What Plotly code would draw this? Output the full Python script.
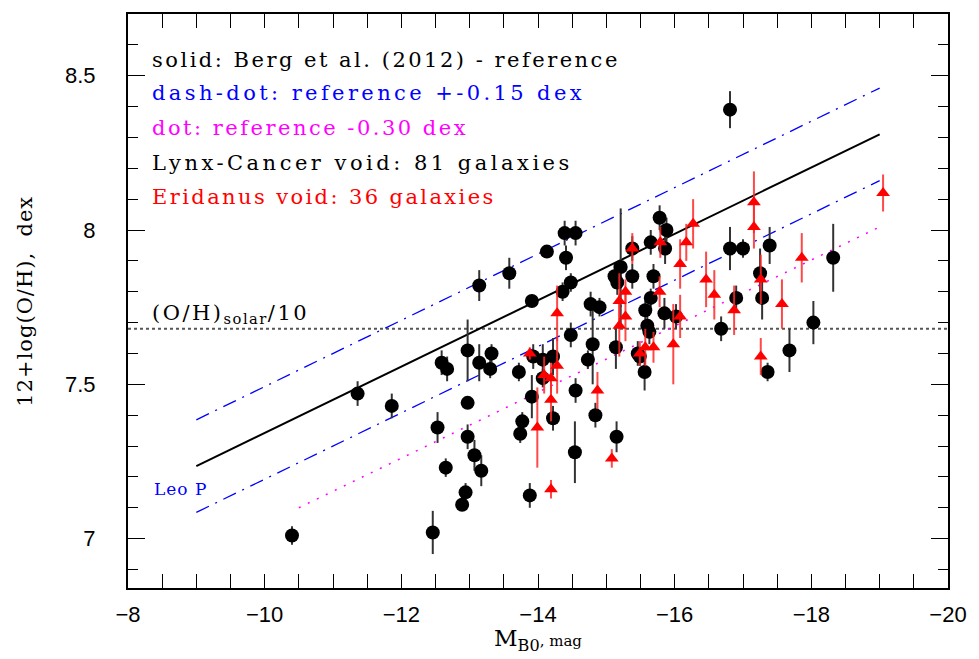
import plotly.graph_objects as go

# Lynx-Cancer void galaxies (black circles)
lc_mb = [-10.40, -11.36, -11.86, -12.53, -12.46, -12.59, -12.67, -12.65, -12.97, -12.97,
         -12.97, -13.07, -13.17, -12.94, -12.89, -13.14, -13.32, -13.30, -13.14, -13.58,
         -13.72, -13.91, -13.91, -13.77, -13.74, -13.88, -13.93, -14.07, -14.22, -14.07,
         -14.22, -14.13, -14.39, -14.55, -14.41, -14.48, -14.36, -14.77, -14.90, -14.48,
         -14.80, -14.73, -14.55, -14.84, -14.54, -15.15, -15.14, -15.12, -15.21, -15.16,
         -15.38, -15.38, -15.65, -15.78, -15.88, -15.86, -15.69, -15.65, -15.57, -15.85,
         -16.02, -15.60, -15.63, -15.46, -15.49, -15.56, -16.68, -16.81, -17.00, -17.39,
         -17.25, -17.28, -16.90, -17.36, -17.68, -18.03, -18.32, -16.81]
lc_oh = [7.01, 7.47, 7.43, 7.36, 7.02, 7.57, 7.55, 7.23, 7.61, 7.44,
         7.33, 7.27, 7.22, 7.15, 7.11, 7.57, 7.60, 7.55, 7.82, 7.86,
         7.54, 7.77, 7.46, 7.38, 7.34, 7.14, 7.59, 7.58, 7.59, 7.52,
         7.39, 7.93, 7.99, 7.99, 7.91, 7.83, 7.80, 7.76, 7.75, 7.66,
         7.63, 7.58, 7.48, 7.40, 7.28, 7.33, 7.62, 7.85, 7.88, 7.83,
         7.85, 7.94, 7.96, 8.04, 8.00, 7.94, 7.85, 7.78, 7.74, 7.73,
         7.72, 7.69, 7.67, 7.60, 7.59, 7.54, 7.68, 7.94, 7.94, 7.95,
         7.86, 7.78, 7.78, 7.54, 7.61, 7.70, 7.91, 8.39]
lc_err = [0.03, 0.04, 0.04, 0.05, 0.07, 0.04, 0.04, 0.03, 0.10, 0.02,
          0.04, 0.05, 0.05, 0.03, 0.02, 0.06, 0.03, 0.03, 0.05, 0.05,
          0.03, 0.02, 0.07, 0.03, 0.03, 0.04, 0.04, 0.05, 0.06, 0.03,
          0.04, 0.02, 0.04, 0.04, 0.04, 0.03, 0.03, 0.04, 0.03, 0.04,
          0.13, 0.03, 0.04, 0.04, 0.10, 0.05, 0.07, 0.04, 0.19, 0.04,
          0.04, 0.04, 0.04, 0.04, 0.04, 0.05, 0.04, 0.03, 0.03, 0.05,
          0.04, 0.04, 0.04, 0.04, 0.03, 0.06, 0.04, 0.07, 0.03, 0.06,
          0.08, 0.07, 0.04, 0.03, 0.07, 0.07, 0.11, 0.06]

# Eridanus void galaxies (red triangles)
er_mb = [-14.28, -13.88, -14.09, -14.19, -14.28, -14.19, -13.99, -14.19, -14.87, -15.08,
         -15.38, -15.19, -15.28, -15.28, -15.19, -15.79, -15.78, -15.57, -15.69, -15.49,
         -15.98, -16.08, -16.08, -16.17, -16.27, -16.46, -16.58, -17.16, -17.16, -17.26,
         -16.87, -17.57, -17.86, -17.26, -19.05]
er_oh = [7.73, 7.60, 7.53, 7.52, 7.56, 7.45, 7.36, 7.16, 7.48, 7.26,
         7.94, 7.77, 7.80, 7.72, 7.69, 7.96, 7.80, 7.62, 7.62, 7.60,
         7.63, 7.72, 7.89, 7.96, 8.02, 7.84, 7.79, 8.09, 8.01, 7.84,
         7.74, 7.76, 7.91, 7.59, 8.12]
er_err = [0.09, 0.02, 0.06, 0.05, 0.09, 0.07, 0.13, 0.03, 0.06, 0.03,
          0.05, 0.09, 0.04, 0.08, 0.10, 0.05, 0.05, 0.06, 0.05, 0.04,
          0.13, 0.07, 0.08, 0.06, 0.08, 0.09, 0.08, 0.10, 0.07, 0.08,
          0.08, 0.08, 0.08, 0.06, 0.06]

# Reference relations
ref_x = [-9.0, -19.0]
ref_y = [7.235, 8.31]
ref_hi_y = [7.385, 8.46]
ref_lo_y = [7.085, 8.16]
ref_dot_x = [-10.5, -19.0]
ref_dot_y = [7.10, 8.01]
solar10_x = [-8.0, -20.0]
solar10_y = [7.68, 7.68]

x_ticks = [-8, -10, -12, -14, -16, -18, -20]
y_ticks = [7, 7.5, 8, 8.5]
y_tick_text = ["7", "7.5", "8", "8.5"]

fig = go.Figure()

fig.add_trace(go.Scatter(x=solar10_x, y=solar10_y, mode="lines",
                         line=dict(color="#555555", width=2, dash="dot"), hoverinfo="skip"))
fig.add_trace(go.Scatter(x=ref_x, y=ref_y, mode="lines",
                         line=dict(color="black", width=2)))
fig.add_trace(go.Scatter(x=ref_x, y=ref_hi_y, mode="lines",
                         line=dict(color="#0000ff", width=1.3, dash="14px,7px,2px,7px")))
fig.add_trace(go.Scatter(x=ref_x, y=ref_lo_y, mode="lines",
                         line=dict(color="#0000ff", width=1.3, dash="14px,7px,2px,7px")))
fig.add_trace(go.Scatter(x=ref_dot_x, y=ref_dot_y, mode="lines",
                         line=dict(color="#ff00ff", width=1.5, dash="2px,8px")))

fig.add_trace(go.Scatter(x=lc_mb, y=lc_oh, mode="markers",
                         marker=dict(symbol="circle", size=14, color="black"),
                         error_y=dict(type="data", array=lc_err, color="#333333",
                                      thickness=2, width=0)))
fig.add_trace(go.Scatter(x=er_mb, y=er_oh, mode="markers",
                         marker=dict(symbol="triangle-up", size=12, color="#ff0000"),
                         error_y=dict(type="data", array=er_err, color="rgba(255,40,40,0.85)",
                                      thickness=2, width=0)))

serif = "DejaVu Serif"


def spaced(t, ls="2.5px"):
    return "<span style='letter-spacing:%s'>%s</span>" % (ls, t)


anns = [
    ("solid: Berg et al. (2012) - reference", "black", 0.920, "2.5px"),
    ("dash-dot: reference +-0.15 dex", "#0000ff", 0.863, "3.4px"),
    ("dot: reference -0.30 dex", "#ff00ff", 0.802, "2.5px"),
    ("Lynx-Cancer void: 81 galaxies", "black", 0.741, "3.5px"),
    ("Eridanus void: 36 galaxies", "#ff0000", 0.682, "2.4px"),
]
for txt, col, yp, ls in anns:
    fig.add_annotation(x=0.027, y=yp, xref="paper", yref="paper", text=spaced(txt, ls),
                       showarrow=False, xanchor="left", yanchor="middle",
                       font=dict(family=serif, size=21, color=col))

fig.add_annotation(x=0.027, y=0.478, xref="paper", yref="paper",
                   text=spaced("(O/H)") + "<sub>" + spaced("solar", "1.5px") + "</sub>" + spaced("/10"),
                   showarrow=False, xanchor="left", yanchor="middle",
                   font=dict(family=serif, size=21, color="black"))
fig.add_annotation(x=0.029, y=0.172, xref="paper", yref="paper", text=spaced("Leo P", "1px"),
                   showarrow=False, xanchor="left", yanchor="middle",
                   font=dict(family=serif, size=17, color="#0000ff"))

# axis titles
fig.add_annotation(x=-0.126, y=0.50, xref="paper", yref="paper",
                   text=spaced("12+log(O/H),  dex", "1px"), textangle=-90, showarrow=False,
                   xanchor="center", yanchor="middle",
                   font=dict(family=serif, size=21, color="black"))
fig.add_annotation(x=0.5, y=-0.09, xref="paper", yref="paper",
                   text="M<sub>B0</sub><span style='font-size:15px'>, mag</span>",
                   showarrow=False, xanchor="center", yanchor="middle",
                   font=dict(family=serif, size=23, color="black"))

fig.update_layout(
    width=979, height=659,
    margin=dict(l=128, r=27, t=12, b=71),
    paper_bgcolor="white", plot_bgcolor="white",
    showlegend=False,
    xaxis=dict(range=[-8, -20], tickvals=x_ticks, ticks="inside", ticklen=14,
               tickwidth=1.3, tickcolor="black", showline=True, linecolor="black",
               linewidth=2, mirror="ticks", showgrid=False, zeroline=False,
               tickfont=dict(family="Liberation Sans", size=22, color="black"),
               ticklabelstandoff=6,
               minor=dict(dtick=0.5, tick0=0, ticks="inside", ticklen=14,
                          tickwidth=1.3, tickcolor="black", showgrid=False)),
    yaxis=dict(range=[6.84, 8.70], tickvals=y_ticks, ticktext=y_tick_text,
               ticks="inside", ticklen=17, tickwidth=1.3, tickcolor="black",
               showline=True, linecolor="black", linewidth=2, mirror="ticks",
               showgrid=False, zeroline=False,
               tickfont=dict(family="Liberation Sans", size=22, color="black"),
               ticklabelstandoff=26,
               minor=dict(dtick=0.1, tick0=0, ticks="inside", ticklen=10,
                          tickwidth=1.3, tickcolor="black", showgrid=False)),
)

fig.write_html("out.html")
